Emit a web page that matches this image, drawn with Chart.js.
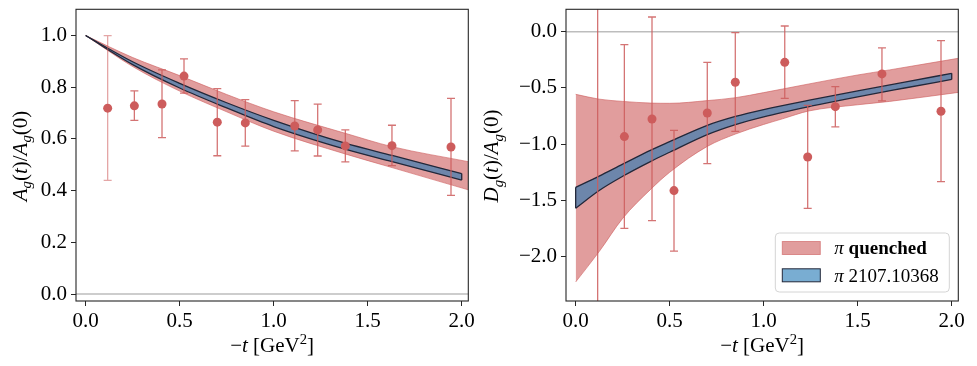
<!DOCTYPE html>
<html>
<head>
<meta charset="utf-8">
<script src="https://cdn.jsdelivr.net/npm/chart.js@4.4.1/dist/chart.umd.min.js"></script>
<style>
    html, body { margin: 0; padding: 0; background: #fff; }
    #wrap { position: relative; width: 977px; height: 366px; overflow: hidden; }
    canvas { position: absolute; top: 0; }
    #chart-a { left: 0; }
    #chart-d { left: 480px; }
</style>
</head>
<body>
<div id="wrap">
    <canvas id="chart-a" width="480" height="366"></canvas>
    <canvas id="chart-d" width="497" height="366"></canvas>
</div>
<script>
// -t values of the lattice points [GeV^2]
const tPoints = [0.117, 0.259, 0.406, 0.523, 0.700, 0.849, 1.112, 1.234, 1.381, 1.629, 1.943];

// A_g(t)/A_g(0) points with error bar ends
const aValues = [0.719, 0.728, 0.735, 0.843, 0.665, 0.662, 0.650, 0.635, 0.573, 0.574, 0.569];
const aErrHi  = [1.000, 0.786, 0.867, 0.910, 0.795, 0.752, 0.748, 0.735, 0.635, 0.653, 0.757];
const aErrLo  = [0.440, 0.672, 0.605, 0.777, 0.535, 0.572, 0.554, 0.534, 0.511, 0.497, 0.382];

// D_g(t)/A_g(0) points (first one sits off the plot, only its bar shows)
const dValues = [-2.900, -0.933, -0.776, -1.413, -0.723, -0.450, -0.273, -1.114, -0.667, -0.376, -0.708];
const dErrHi  = [ 1.200, -0.116,  0.130, -0.877, -0.273, -0.009,  0.050, -0.655, -0.489, -0.145, -0.080];
const dErrLo  = [-7.000, -1.748, -1.680, -1.950, -1.173, -0.886, -0.593, -1.570, -0.847, -0.616, -1.333];

// quenched band for A_g
const aRedX  = [0, 0.25, 0.5, 0.75, 1.0, 1.38, 1.63, 2.035];
const aRedHi = [1.0, 0.915, 0.845, 0.772, 0.705, 0.622, 0.570, 0.512];
const aRedLo = [1.0, 0.880, 0.785, 0.705, 0.630, 0.542, 0.489, 0.403];

// 2107.10368 band for A_g
const aBlueX  = [0, 0.25, 0.5, 0.75, 1.0, 1.38, 1.63, 2.0];
const aBlueHi = [1.0, 0.8985, 0.815, 0.740, 0.672, 0.5835, 0.536, 0.466];
const aBlueLo = [1.0, 0.8875, 0.797, 0.720, 0.648, 0.5605, 0.512, 0.441];

// quenched band for D_g
const dRedX  = [0, 0.125, 0.25, 0.4, 0.5, 0.7, 0.85, 1.0, 1.1, 1.24, 1.5, 1.67, 2.035];
const dRedHi = [-0.557, -0.600, -0.620, -0.635, -0.637, -0.613, -0.587, -0.542, -0.510, -0.465, -0.385, -0.340, -0.237];
const dRedLo = [-2.225, -1.955, -1.660, -1.400, -1.250, -1.020, -0.910, -0.825, -0.775, -0.705, -0.650, -0.620, -0.540];

// 2107.10368 band for D_g
const dBlueX  = [0, 0.125, 0.25, 0.4, 0.5, 0.7, 0.85, 1.0, 1.25, 1.5, 1.75, 2.0];
const dBlueHi = [-1.3835, -1.2835, -1.1775, -1.0525, -0.978, -0.833, -0.754, -0.693, -0.607, -0.527, -0.449, -0.3705];
const dBlueLo = [-1.5695, -1.4115, -1.2855, -1.1525, -1.072, -0.915, -0.826, -0.757, -0.663, -0.579, -0.501, -0.4245];

// tick labels
const xTicks  = [0, 0.5, 1.0, 1.5, 2.0];
const aYTicks = [0, 0.2, 0.4, 0.6, 0.8, 1.0];
const dYTicks = [-2.0, -1.5, -1.0, -0.5, 0.0];

const legendLabels = ['π quenched', 'π 2107.10368'];

// colours
const pointColor = '#cd5c5c';
const barColor = 'rgba(205, 92, 92, 0.85)';
const redFill = 'rgba(205, 92, 92, 0.6)';
const blueFill = 'rgba(31, 119, 180, 0.6)';
const blueEdge = '#23283a';
const serif = '"Liberation Serif", "Times New Roman", serif';

// draw a little bit of math text: parts = [{t, it, b, sub, sup}]
function drawMath(ctx, parts, x, y, size, opts = {}) {
    const fontOf = (p) => {
        const s = (p.sub || p.sup) ? size * 0.7 : size;
        return (p.it ? 'italic ' : '') + (p.b ? 'bold ' : '') + s + 'px ' + serif;
    };
    ctx.save();
    ctx.translate(x, y);
    if (opts.rotate) ctx.rotate(-Math.PI / 2);
    let total = 0;
    parts.forEach((p) => { ctx.font = fontOf(p); total += ctx.measureText(p.t).width; });
    let cx = opts.align === 'left' ? 0 : -total / 2;
    ctx.fillStyle = '#000';
    ctx.textBaseline = 'alphabetic';
    parts.forEach((p) => {
        ctx.font = fontOf(p);
        const dy = p.sub ? size * 0.22 : (p.sup ? -size * 0.38 : 0);
        ctx.fillText(p.t, cx, dy + size * 0.34);
        cx += ctx.measureText(p.t).width;
    });
    ctx.restore();
}

function xy(xs, ys) {
    return xs.map((x, i) => ({ x: x, y: ys[i] }));
}

// two edge lines with the fill between them
function band(xs, lo, hi, fill, edge, width, order) {
    const line = { showLine: true, pointRadius: 0, borderColor: edge, borderWidth: width,
        cubicInterpolationMode: 'monotone', fill: false };
    return [
        Object.assign({}, line, { data: xy(xs, lo), order: order }),
        Object.assign({}, line, { data: xy(xs, hi), order: order + 0.5, fill: '-1', backgroundColor: fill })
    ];
}

// vertical closing edge of a band at index i
function bandCap(xs, lo, hi, i, edge, width) {
    return { showLine: true, pointRadius: 0, borderColor: edge, borderWidth: width, order: 1.5,
        data: [{ x: xs[i], y: lo[i] }, { x: xs[i], y: hi[i] }] };
}

function fmtTick(v) {
    return v.toFixed(1).replace('-', '\u2212');
}

function axis(min, max, ticks, horizontal, size) {
    return {
        type: 'linear', min: min, max: max,
        afterBuildTicks: (scale) => { scale.ticks = ticks.map((v) => ({ value: v })); },
        afterFit: (scale) => {
            if (horizontal) scale.height = size; else scale.width = size;
            // no extra room for overhanging labels, the layout sets the plot box
            scale.paddingTop = 0; scale.paddingBottom = 0;
            scale.paddingLeft = 0; scale.paddingRight = 0;
        },
        ticks: { font: { family: serif, size: 21 }, color: '#000', padding: horizontal ? 3 : 4,
            maxRotation: 0, autoSkip: false, callback: fmtTick },
        grid: { drawOnChartArea: false, drawTicks: true, tickLength: 5, color: '#262626', lineWidth: 1 },
        border: { display: false }
    };
}

// error bars under the points, zero line, frame and axis titles
const decorPlugin = {
    id: 'decor',
    beforeDatasetsDraw(chart) {
        const { ctx, chartArea } = chart;
        const y0 = chart.scales.y.getPixelForValue(0);
        ctx.save();
        ctx.strokeStyle = '#bdbdbd';
        ctx.lineWidth = 1.5;
        ctx.beginPath();
        ctx.moveTo(chartArea.left, y0);
        ctx.lineTo(chartArea.right, y0);
        ctx.stroke();
        ctx.restore();
    },
    beforeDatasetDraw(chart, args) {
        if (args.index !== 0) return;
        const ds = chart.data.datasets[0];
        const { ctx, chartArea } = chart;
        const xs = chart.scales.x, ys = chart.scales.y;
        ctx.save();
        ctx.beginPath();
        ctx.rect(chartArea.left, chartArea.top, chartArea.width, chartArea.height);
        ctx.clip();
        ctx.lineWidth = 1.3;
        ds.data.forEach((p, i) => {
            const px = xs.getPixelForValue(p.x);
            const top = ys.getPixelForValue(ds.yHi[i]);
            const bot = ys.getPixelForValue(ds.yLo[i]);
            ctx.strokeStyle = (ds.fadeFirst && i === 0) ? 'rgba(205, 92, 92, 0.55)' : barColor;
            ctx.beginPath();
            ctx.moveTo(px, top); ctx.lineTo(px, bot);
            ctx.moveTo(px - 4, top); ctx.lineTo(px + 4, top);
            ctx.moveTo(px - 4, bot); ctx.lineTo(px + 4, bot);
            ctx.stroke();
        });
        ctx.restore();
    },
    afterDraw(chart) {
        const { ctx, chartArea } = chart;
        const opts = chart.options.plugins.decor;
        ctx.save();
        ctx.strokeStyle = '#262626';
        ctx.lineWidth = 1.1;
        ctx.strokeRect(chartArea.left, chartArea.top, chartArea.width, chartArea.height);
        ctx.restore();
        const cx = (chartArea.left + chartArea.right) / 2;
        drawMath(ctx, [{ t: '\u2212' }, { t: 't', it: true }, { t: ' [GeV' }, { t: '2', sup: true }, { t: ']' }],
            cx, 345, 21);
        const f = opts.letter;
        drawMath(ctx, [{ t: f, it: true }, { t: 'g', it: true, sub: true }, { t: '(' }, { t: 't', it: true },
            { t: ')/' }, { t: 'A', it: true }, { t: 'g', it: true, sub: true }, { t: '(0)' }],
            opts.titleX, 156, 21, { rotate: true });
    }
};

// legend box in the lower right corner of the D_g panel
const legendPlugin = {
    id: 'bandLegend',
    afterDraw(chart) {
        const { ctx, chartArea } = chart;
        const w = 174, h = 59;
        const x0 = chartArea.right - 9 - w, y0 = chartArea.bottom - 9 - h;
        ctx.save();
        ctx.fillStyle = 'rgba(255, 255, 255, 0.8)';
        ctx.strokeStyle = '#d4d4d4';
        ctx.lineWidth = 1;
        ctx.beginPath();
        ctx.roundRect(x0, y0, w, h, 4);
        ctx.fill();
        ctx.stroke();
        const styles = [{ fill: redFill, edge: redFill, bold: true }, { fill: blueFill, edge: blueEdge, bold: false }];
        legendLabels.forEach((label, i) => {
            const cy = y0 + 15 + i * 27.3;
            ctx.fillStyle = styles[i].fill;
            ctx.fillRect(x0 + 7, cy - 6.5, 38, 13);
            ctx.strokeStyle = styles[i].edge;
            ctx.strokeRect(x0 + 7, cy - 6.5, 38, 13);
            drawMath(ctx, [{ t: label.charAt(0), it: true }, { t: label.slice(1), b: styles[i].bold }],
                x0 + 59, cy, 19, { align: 'left' });
        });
        ctx.restore();
    }
};

function buildChart(canvasId, p) {
    const datasets = [
        { data: xy(tPoints, p.values), yHi: p.errHi, yLo: p.errLo, fadeFirst: p.fadeFirst,
            pointRadius: 4.5, pointBackgroundColor: pointColor, pointBorderWidth: 0, showLine: false, order: 0 },
        ...band(p.redX, p.redLo, p.redHi, redFill, redFill, 1, 3),
        ...band(p.blueX, p.blueLo, p.blueHi, blueFill, blueEdge, 1.3, 2),
        bandCap(p.blueX, p.blueLo, p.blueHi, 0, blueEdge, 1.3),
        bandCap(p.blueX, p.blueLo, p.blueHi, p.blueX.length - 1, blueEdge, 1.3)
    ];
    return new Chart(document.getElementById(canvasId), {
        type: 'scatter',
        data: { datasets: datasets },
        options: {
            responsive: false,
            animation: false,
            events: [],
            layout: { padding: { top: 9.3, right: p.padRight, bottom: 0, left: 0 } },
            scales: {
                x: axis(-0.0514, 2.035, xTicks, true, 65),
                y: axis(p.yMin, p.yMax, p.yTicks, false, p.yWidth)
            },
            plugins: {
                legend: { display: false },
                tooltip: { enabled: false },
                decor: { letter: p.letter, titleX: p.titleX }
            }
        },
        plugins: p.withLegend ? [decorPlugin, legendPlugin] : [decorPlugin]
    });
}

buildChart('chart-a', {
    values: aValues, errHi: aErrHi, errLo: aErrLo, fadeFirst: true,
    redX: aRedX, redHi: aRedHi, redLo: aRedLo,
    blueX: aBlueX, blueHi: aBlueHi, blueLo: aBlueLo,
    yMin: -0.027, yMax: 1.1015, yTicks: aYTicks, yWidth: 76, padRight: 11.7,
    letter: 'A', titleX: 19.5, withLegend: false
});

buildChart('chart-d', {
    values: dValues, errHi: dErrHi, errLo: dErrLo, fadeFirst: false,
    redX: dRedX, redHi: dRedHi, redLo: dRedLo,
    blueX: dBlueX, blueHi: dBlueHi, blueLo: dBlueLo,
    yMin: -2.394, yMax: 0.1985, yTicks: dYTicks, yWidth: 86, padRight: 18.7,
    letter: 'D', titleX: 11, withLegend: true
});
</script>
</body>
</html>
